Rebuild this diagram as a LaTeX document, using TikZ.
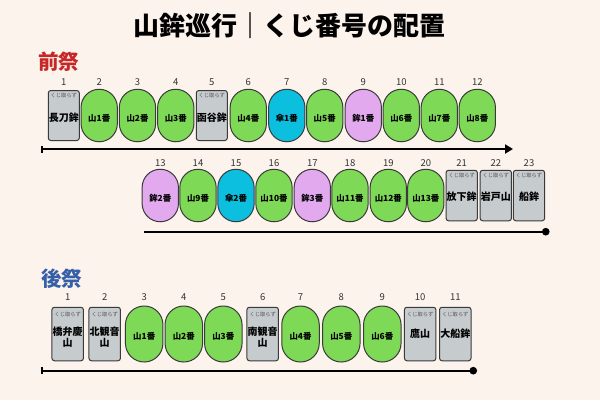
\documentclass[tikz,border=0pt]{standalone}
\usepackage{fontspec}
\setmainfont{Noto Sans CJK JP}
\usetikzlibrary{arrows.meta}
\definecolor{bgc}{HTML}{FCF3EC}
\definecolor{capgreen}{HTML}{7ED957}
\definecolor{capcyan}{HTML}{0CBFDE}
\definecolor{cappurple}{HTML}{E2A9EF}
\definecolor{boxgray}{HTML}{C6CBCE}
\definecolor{edgec}{HTML}{3A3A3A}
\definecolor{redlbl}{HTML}{C62828}
\definecolor{bluelbl}{HTML}{3560A8}
\definecolor{numc}{HTML}{333333}
\definecolor{kujic}{HTML}{555555}
\tikzset{
  capsule/.style={draw=edgec, line width=1pt, rounded corners=17.5pt, inner sep=0pt},
  graybox/.style={draw=edgec, line width=1pt, rounded corners=2.5pt, fill=boxgray, inner sep=0pt},
  captext/.style={inner sep=0pt, font=\bfseries\fontsize{8.4}{9}\selectfont, text=black},
  grayname/.style={inner sep=0pt, align=center, font=\bfseries\fontsize{10}{11}\selectfont, text=black},
  kujitext/.style={inner sep=0pt, font=\fontsize{5.3}{6}\selectfont, text=kujic},
  numlbl/.style={inner sep=0pt, font=\fontsize{9.5}{10}\selectfont, text=numc},
  timeline/.style={line width=2.2pt, black},
  sectitle/.style={inner sep=0pt, font=\bfseries\fontsize{20.5}{22}\selectfont},
}
% name, x, y, w, h, color, text
\newcommand\capnode[7]{%
  \node[capsule, fill=#6, minimum width=#4pt, minimum height=#5pt, rounded corners=#4pt/2] (#1) at (#2,#3) {};
  \node[captext] (#1t) at ([yshift=-2.5pt]#1.center) {#7};
}
% name, x, y, w, h, kuji offset, name offset, text
\newcommand\graynode[8]{%
  \node[graybox, minimum width=#4pt, minimum height=#5pt] (#1) at (#2,#3) {};
  \node[kujitext] (#1k) at ([yshift=-#6pt]#1.north) {くじ取らず};
  \node[grayname] (#1t) at ([yshift=-#7pt]#1.north) {#8};
}
\newcommand\numnode[4]{\node[numlbl] (#1) at (#2,#3) {#4};}
\begin{document}
\begin{tikzpicture}[x=1pt,y=-1pt]
\fill[bgc] (0,0) rectangle (600,400);
\useasboundingbox (0,0) rectangle (600,400);

\node[inner sep=0pt, font=\bfseries\fontsize{26}{28}\selectfont] (title) at (289.7,25.3) {山鉾巡行｜くじ番号の配置};
\node[sectitle, text=redlbl] (zen) at (58.8,61.2) {前祭};
\node[sectitle, text=bluelbl] (ato) at (61.5,278.7) {後祭};

% ---- row 1
\def\ra{115.5}\def\na{82}
\graynode{a1}{63.8}{\ra}{31}{50}{5.5}{28}{長刀鉾}
\capnode{a2}{99.2}{\ra}{36.3}{52.5}{capgreen}{山1番}
\capnode{a3}{137.5}{\ra}{36.3}{52.5}{capgreen}{山2番}
\capnode{a4}{175.8}{\ra}{36.3}{52.5}{capgreen}{山3番}
\graynode{a5}{211.8}{\ra}{31}{50}{5.5}{28}{函谷鉾}
\capnode{a6}{248.3}{\ra}{36.3}{52.5}{capgreen}{山4番}
\capnode{a7}{286.8}{\ra}{36.3}{52.5}{capcyan}{傘1番}
\capnode{a8}{324.7}{\ra}{36.3}{52.5}{capgreen}{山5番}
\capnode{a9}{363.3}{\ra}{36.3}{52.5}{cappurple}{鉾1番}
\capnode{a10}{401.3}{\ra}{36.3}{52.5}{capgreen}{山6番}
\capnode{a11}{439.3}{\ra}{36.3}{52.5}{capgreen}{山7番}
\capnode{a12}{477.3}{\ra}{36.3}{52.5}{capgreen}{山8番}
\numnode{na1}{63.8}{\na}{1}
\numnode{na2}{99.2}{\na}{2}
\numnode{na3}{137.5}{\na}{3}
\numnode{na4}{175.8}{\na}{4}
\numnode{na5}{211.8}{\na}{5}
\numnode{na6}{248.3}{\na}{6}
\numnode{na7}{286.8}{\na}{7}
\numnode{na8}{324.7}{\na}{8}
\numnode{na9}{363.3}{\na}{9}
\numnode{na10}{401.3}{\na}{10}
\numnode{na11}{439.3}{\na}{11}
\numnode{na12}{477.3}{\na}{12}
\coordinate (t1s) at (41,149);
\coordinate (t1e) at (513,149);
\draw[timeline, {Bar[width=7pt,line width=1.6pt]}-{Triangle[length=8pt,width=9pt]}] (t1s) -- (t1e);

% ---- row 2
\def\rb{195.5}\def\nb{163}
\capnode{b13}{160.3}{\rb}{36.3}{52.5}{cappurple}{鉾2番}
\capnode{b14}{198}{\rb}{36.3}{52.5}{capgreen}{山9番}
\capnode{b15}{236}{\rb}{36.3}{52.5}{capcyan}{傘2番}
\capnode{b16}{274}{\rb}{36.3}{52.5}{capgreen}{山10番}
\capnode{b17}{312.3}{\rb}{36.3}{52.5}{cappurple}{鉾3番}
\capnode{b18}{350}{\rb}{36.3}{52.5}{capgreen}{山11番}
\capnode{b19}{388.3}{\rb}{36.3}{52.5}{capgreen}{山12番}
\capnode{b20}{425.8}{\rb}{36.3}{52.5}{capgreen}{山13番}
\graynode{b21}{461.7}{\rb}{31.3}{50.5}{6}{26.5}{放下鉾}
\graynode{b22}{495.8}{\rb}{31.3}{50.5}{6}{26.5}{岩戸山}
\graynode{b23}{529}{\rb}{31.3}{50.5}{6}{26.5}{船鉾}
\numnode{nb13}{160.3}{\nb}{13}
\numnode{nb14}{198}{\nb}{14}
\numnode{nb15}{236}{\nb}{15}
\numnode{nb16}{274}{\nb}{16}
\numnode{nb17}{312.3}{\nb}{17}
\numnode{nb18}{350}{\nb}{18}
\numnode{nb19}{388.3}{\nb}{19}
\numnode{nb20}{425.8}{\nb}{20}
\numnode{nb21}{461.7}{\nb}{21}
\numnode{nb22}{495.8}{\nb}{22}
\numnode{nb23}{529}{\nb}{23}
\coordinate (t2s) at (144,231.7);
\coordinate (t2e) at (549.5,231.7);
\draw[timeline, -{Circle[length=7.5pt]}] (t2s) -- (t2e);

% ---- row 3
\def\rc{334}\def\nc{297.5}
\graynode{c1}{67.7}{\rc}{31.5}{53.5}{8}{30}{橋弁慶\\山}
\graynode{c2}{104.7}{\rc}{31.5}{53.5}{8}{30}{北観音\\山}
\capnode{c3}{144.2}{\rc}{37.5}{56}{capgreen}{山1番}
\capnode{c4}{183.8}{\rc}{37.5}{56}{capgreen}{山2番}
\capnode{c5}{223.3}{\rc}{37.5}{56}{capgreen}{山3番}
\graynode{c6}{262.7}{\rc}{31.5}{53.5}{8}{30}{南観音\\山}
\capnode{c7}{300.5}{\rc}{37.5}{56}{capgreen}{山4番}
\capnode{c8}{341.3}{\rc}{37.5}{56}{capgreen}{山5番}
\capnode{c9}{382.3}{\rc}{37.5}{56}{capgreen}{山6番}
\graynode{c10}{420.2}{\rc}{31.5}{53.5}{8}{27}{鷹山}
\graynode{c11}{455.3}{\rc}{31.5}{53.5}{8}{27}{大船鉾}
\numnode{nc1}{67.7}{\nc}{1}
\numnode{nc2}{104.7}{\nc}{2}
\numnode{nc3}{144.2}{\nc}{3}
\numnode{nc4}{183.8}{\nc}{4}
\numnode{nc5}{223.3}{\nc}{5}
\numnode{nc6}{262.7}{\nc}{6}
\numnode{nc7}{300.5}{\nc}{7}
\numnode{nc8}{341.3}{\nc}{8}
\numnode{nc9}{382.3}{\nc}{9}
\numnode{nc10}{420.2}{\nc}{10}
\numnode{nc11}{455.3}{\nc}{11}
\coordinate (t3s) at (41,370.7);
\coordinate (t3e) at (477,370.7);
\draw[timeline, {Bar[width=7pt,line width=1.6pt]}-{Circle[length=7.5pt]}] (t3s) -- (t3e);
\end{tikzpicture}
\end{document}
